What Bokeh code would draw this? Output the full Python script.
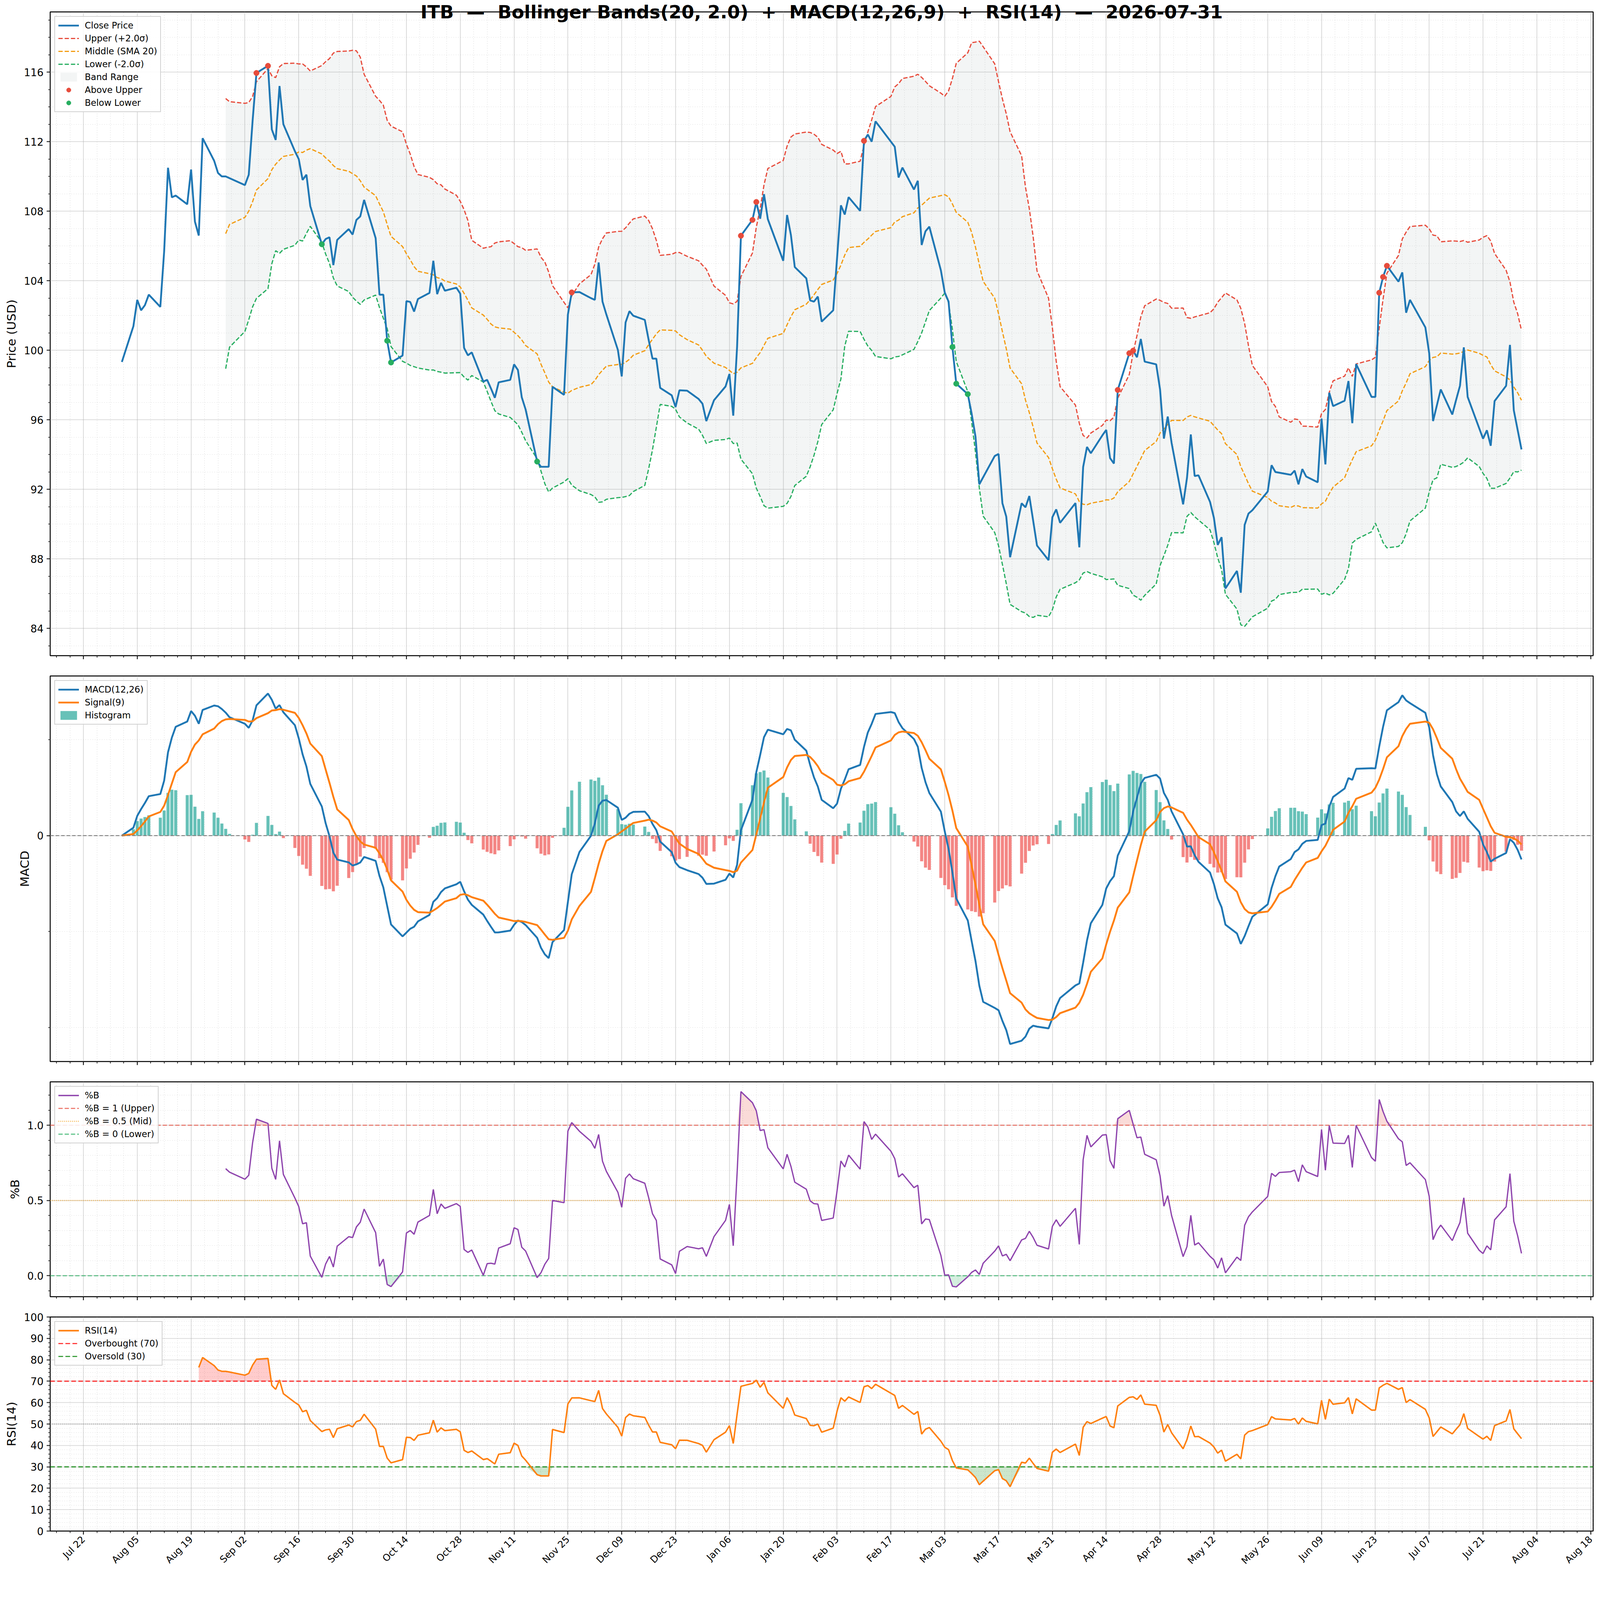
import math
import numpy as np
import pandas as pd
from bokeh.plotting import figure
from bokeh.layouts import column
from bokeh.models import (Range1d, FixedTicker, Legend, LegendItem, Span, Title,
                          DatetimeTickFormatter, NumeralTickFormatter)
from bokeh.embed import file_html
from bokeh.resources import INLINE

# ---------------------------------------------------------------- data
TITLE = "ITB  \u2014  Bollinger Bands(20, 2.0)  +  MACD(12,26,9)  +  RSI(14)  \u2014  2026-07-31"
FIRST_DAY = "2025-08-01"
LAST_DAY = "2026-07-31"
# NYSE market holidays (no bar on these days)
HOLIDAYS = ["2025-09-01", "2025-11-27", "2025-12-25", "2026-01-01", "2026-01-19",
            "2026-02-16", "2026-04-03", "2026-05-25", "2026-06-19", "2026-07-03"]

CLOSE_AUG = [99.33, 101.39, 102.9, 102.3, 102.6, 103.2, 102.5, 105.7, 110.5, 108.8, 108.9,
             108.4, 110.4, 107.4, 106.6, 112.2, 110.9, 110.2, 110.0, 110.0, 109.9]
CLOSE_SEP = [109.5, 110.1, 113.2, 115.95, 116.36, 112.7, 112.1, 115.2, 113.0, 111.45,
             111.0, 109.8, 110.1, 108.3, 106.1, 106.4, 106.5, 104.9, 106.35, 106.97, 106.66]
CLOSE_OCT = [107.5, 107.7, 108.65, 106.45, 103.2, 103.2, 100.55, 99.3, 99.7, 102.83, 102.78,
             102.23, 102.95, 103.3, 105.15, 103.23, 103.88, 103.43, 103.6, 103.26, 100.14, 99.71, 99.88]
CLOSE_NOV = [98.2, 98.3, 97.8, 97.27, 98.16, 98.3, 99.19, 98.87, 97.3, 96.6, 93.6, 93.3, 93.3,
             93.3, 97.9, 97.44, 102.06, 103.33, 103.35]
CLOSE_DEC = [103.0, 102.9, 105.05, 102.8, 102.06, 100.02, 98.5, 101.6, 102.25, 101.99, 101.75,
             100.6, 99.52, 99.52, 97.84, 97.41, 96.74, 97.7, 97.68, 97.2, 96.93, 95.93]
CLOSE_JAN = [97.13, 97.92, 98.64, 96.24, 100.2, 106.59, 107.5, 108.53, 107.57, 108.98,
             107.54, 105.15, 107.78, 106.63, 104.79, 104.14, 102.87, 102.8, 103.09, 101.65]
CLOSE_FEB = [102.3, 105.3, 108.34, 107.81, 108.81, 108.02, 112.05, 112.41, 112.0, 113.17,
             112.0, 111.71, 109.94, 110.51, 109.25, 109.75, 106.06, 106.85, 107.11]
CLOSE_MAR = [104.6, 103.33, 102.8, 100.19, 98.08, 97.48, 96.36, 95.04, 92.29, 92.7, 93.92,
             94.04, 91.21, 90.44, 88.1, 91.2, 90.97, 91.62, 90.2, 88.77, 87.93, 90.4]
CLOSE_APR = [90.85, 90.08, 91.21, 88.67, 93.29, 94.44, 94.08, 95.11, 95.42, 93.8, 93.49,
             97.72, 99.83, 99.98, 99.6, 100.65, 99.35, 99.19, 97.75, 94.92, 96.19]
CLOSE_MAY = [94.68, 91.14, 92.65, 95.16, 92.77, 92.81, 91.28, 90.37, 88.81, 89.25, 86.3, 87.31,
             86.06, 89.96, 90.61, 90.8, 91.88, 93.39, 93.0, 92.96]
CLOSE_JUN = [92.84, 93.08, 92.29, 93.17, 92.74, 92.41, 96.07, 93.44, 97.56, 96.79, 97.1, 98.23,
             95.81, 99.21, 97.32, 97.32, 103.31, 104.22, 104.86, 103.95, 104.48]
CLOSE_JUL = [102.16, 102.9, 101.32, 99.83, 95.93, 96.84, 97.75, 96.31, 97.15, 97.96,
             100.17, 97.32, 95.52, 94.92, 95.4, 94.51, 97.08, 97.96, 100.31, 96.55, 95.42, 94.3]

TICK_DATES = ["2025-07-22", "2025-08-05", "2025-08-19", "2025-09-02", "2025-09-16", "2025-09-30",
              "2025-10-14", "2025-10-28", "2025-11-11", "2025-11-25", "2025-12-09", "2025-12-23",
              "2026-01-06", "2026-01-20", "2026-02-03", "2026-02-17", "2026-03-03", "2026-03-17",
              "2026-03-31", "2026-04-14", "2026-04-28", "2026-05-12", "2026-05-26", "2026-06-09",
              "2026-06-23", "2026-07-07", "2026-07-21", "2026-08-04", "2026-08-18"]
TICK_LABELS = ["Jul 22", "Aug 05", "Aug 19", "Sep 02", "Sep 16", "Sep 30", "Oct 14", "Oct 28",
               "Nov 11", "Nov 25", "Dec 09", "Dec 23", "Jan 06", "Jan 20", "Feb 03", "Feb 17",
               "Mar 03", "Mar 17", "Mar 31", "Apr 14", "Apr 28", "May 12", "May 26", "Jun 09",
               "Jun 23", "Jul 07", "Jul 21", "Aug 04", "Aug 18"]
PRICE_TICKS = [84, 88, 92, 96, 100, 104, 108, 112, 116]
PCTB_TICKS = [0.0, 0.5, 1.0]
RSI_TICKS = [0, 10, 20, 30, 40, 50, 60, 70, 80, 90, 100]

BB_N, BB_K = 20, 2.0
FAST, SLOW, SIG = 12, 26, 9
RSI_N = 14
RSI_OB, RSI_OS, RSI_MID = 70, 30, 50

CLOSE = (CLOSE_AUG + CLOSE_SEP + CLOSE_OCT + CLOSE_NOV + CLOSE_DEC + CLOSE_JAN + CLOSE_FEB +
         CLOSE_MAR + CLOSE_APR + CLOSE_MAY + CLOSE_JUN + CLOSE_JUL)

# ---------------------------------------------------------------- indicators
dates = pd.bdate_range(FIRST_DAY, LAST_DAY, freq="C", holidays=HOLIDAYS)
n = min(len(dates), len(CLOSE))
dates = dates[:n]
close = pd.Series(CLOSE[:n], index=dates, dtype=float)

mid = close.rolling(BB_N).mean()
sd = close.rolling(BB_N).std()
upper = mid + BB_K * sd
lower = mid - BB_K * sd
pctb = (close - lower) / (upper - lower)

ema_f = close.ewm(span=FAST, adjust=False).mean()
ema_s = close.ewm(span=SLOW, adjust=False).mean()
macd = ema_f - ema_s
signal = macd.ewm(span=SIG, adjust=False).mean()
hist = macd - signal

delta = close.diff()
gain = delta.clip(lower=0)
loss = -delta.clip(upper=0)
ag = gain.ewm(alpha=1.0 / RSI_N, adjust=False, min_periods=RSI_N).mean()
al = loss.ewm(alpha=1.0 / RSI_N, adjust=False, min_periods=RSI_N).mean()
rsi = 100 - 100 / (1 + ag / al)

# ---------------------------------------------------------------- sizes (reference pixels -> CSS px)
S = 1.0 / 1.0658


def R(v):
    return v * S


def I(v):
    return int(round(v * S))


def fs(v):
    return "%.1fpx" % (v * S)


def dash(a, b):
    return "%d %d" % (max(1, I(a)), max(1, I(b)))


FONT = "DejaVu Sans"
FRAME_W = 4210
DAY_MS = 86400000.0
BAR_W = 0.8 * DAY_MS

t_first = dates[0].value / 1e6 - BAR_W / 2
t_last = dates[-1].value / 1e6 + BAR_W / 2
pad = 0.05 * (t_last - t_first)
xr = Range1d(t_first - pad, t_last + pad)

tick_ms = [pd.Timestamp(d).value / 1e6 for d in TICK_DATES]
minor_ms = [tick_ms[0] + k * 3.5 * DAY_MS for k in range(-8, 4 * len(tick_ms) + 8)]
minor_ms = [m for m in minor_ms if all(abs(m - t) > 1 for t in tick_ms)]
x_ticker = FixedTicker(ticks=tick_ms, minor_ticks=minor_ms)


def padded(vals):
    arr = np.concatenate([np.asarray(v, dtype=float) for v in vals])
    arr = arr[np.isfinite(arr)]
    lo, hi = arr.min(), arr.max()
    r = hi - lo
    return lo - 0.05 * r, hi + 0.05 * r


def make_panel(frame_h, y_lo, y_hi, b_top, b_bottom, ylabel, yticks, yminor, show_dates):
    p = figure(x_axis_type="datetime", x_range=xr, y_range=Range1d(y_lo, y_hi),
               frame_width=I(FRAME_W), frame_height=I(frame_h),
               min_border_left=I(136.4), min_border_right=I(14),
               min_border_top=I(b_top), min_border_bottom=I(b_bottom),
               output_backend="svg", toolbar_location=None)
    p.background_fill_color = "white"
    p.border_fill_color = "white"
    p.outline_line_color = "black"
    p.outline_line_width = R(2.6)

    p.xaxis.ticker = x_ticker
    p.xaxis.formatter = DatetimeTickFormatter(days="%b %d", months="%b %d", years="%b %d")
    if show_dates:
        p.xaxis.major_label_overrides = {t: lab for t, lab in zip(tick_ms, TICK_LABELS)}
    else:
        p.xaxis.major_label_overrides = {t: "" for t in tick_ms}
    yt = FixedTicker(ticks=yticks, minor_ticks=yminor)
    p.yaxis.ticker = yt
    p.xgrid.ticker = x_ticker
    p.ygrid.ticker = yt

    for ax in p.xaxis + p.yaxis:
        ax.axis_line_color = None
        ax.major_tick_line_color = "black"
        ax.major_tick_line_width = R(2.3)
        ax.major_tick_in = 0
        ax.major_tick_out = I(10)
        ax.minor_tick_line_color = "black"
        ax.minor_tick_line_width = R(1.7)
        ax.minor_tick_in = 0
        ax.minor_tick_out = I(5.5)
        ax.major_label_text_font = FONT
        ax.major_label_text_font_size = fs(28)
        ax.major_label_text_color = "black"
        ax.major_label_standoff = I(8)
        ax.axis_label_text_font = FONT
        ax.axis_label_text_font_size = fs(33)
        ax.axis_label_text_font_style = "normal"
        ax.axis_label_text_color = "black"
        ax.axis_label_standoff = I(12)
    p.yaxis.axis_label = ylabel
    if show_dates:
        p.xaxis.major_label_orientation = math.pi / 4
        p.xaxis.major_label_text_font_size = fs(26)
    else:
        p.xaxis.major_label_standoff = 0

    for g in (p.xgrid, p.ygrid):
        g.grid_line_color = "#b0b0b0"
        g.grid_line_alpha = 0.6
        g.grid_line_width = R(1.7)
        g.minor_grid_line_color = "#b0b0b0"
        g.minor_grid_line_alpha = 0.45
        g.minor_grid_line_width = R(1.3)
        g.minor_grid_line_dash = dash(2, 4)
    return p


def make_legend(items):
    return Legend(items=items, location="top_left", margin=I(12), padding=I(9), spacing=I(5),
                  label_text_font=FONT, label_text_font_size=fs(24.2), label_text_color="black",
                  label_standoff=I(16), glyph_width=I(57), glyph_height=I(30), label_height=I(30),
                  border_line_color="#cccccc", border_line_width=R(2.6), border_line_alpha=0.9,
                  background_fill_color="white", background_fill_alpha=0.85)


def ref_line(p, level, color, alpha, width, dsh):
    return p.line(x=[xr.start, xr.end], y=[level, level], line_color=color, line_alpha=alpha,
                  line_width=width, line_dash=dsh)


valid = mid.notna().values
dv = dates[valid]

# ---------------------------------------------------------------- price panel
PRICE_H = 1756
plo, phi = padded([close.values, upper.values, lower.values])
p1 = make_panel(PRICE_H, plo, phi, 32.4, 28, "Price (USD)", PRICE_TICKS,
                [v for v in range(78, 124) if v not in PRICE_TICKS], False)
title = Title(text=TITLE.replace("  ", " \u00a0"), align="center", vertical_align="middle",
              text_font=FONT, text_font_size=fs(50), text_font_style="bold", text_color="black",
              standoff=-88)
p1.add_layout(title, "above")
r_band = p1.varea(x=dv, y1=lower.values[valid], y2=upper.values[valid],
                  fill_color="#95a5a6", fill_alpha=0.11)
r_up = p1.line(dv, upper.values[valid], line_color="#e74c3c", line_width=R(3.3), line_dash=dash(12, 5))
r_mid = p1.line(dv, mid.values[valid], line_color="#f39c12", line_width=R(3.3), line_dash=dash(12, 5))
r_lo = p1.line(dv, lower.values[valid], line_color="#27ae60", line_width=R(3.3), line_dash=dash(12, 5))
r_close = p1.line(dates, close.values, line_color="#1f77b4", line_width=R(5))
ab = (close > upper).values
be = (close < lower).values
r_ab = p1.scatter(dates[ab], close.values[ab], size=R(15), fill_color="#e74c3c", line_color="#e74c3c")
r_be = p1.scatter(dates[be], close.values[be], size=R(15), fill_color="#27ae60", line_color="#27ae60")
p1.add_layout(make_legend([
    LegendItem(label="Close Price", renderers=[r_close]),
    LegendItem(label="Upper (+2.0\u03c3)", renderers=[r_up]),
    LegendItem(label="Middle (SMA 20)", renderers=[r_mid]),
    LegendItem(label="Lower (-2.0\u03c3)", renderers=[r_lo]),
    LegendItem(label="Band Range", renderers=[r_band]),
    LegendItem(label="Above Upper", renderers=[r_ab]),
    LegendItem(label="Below Lower", renderers=[r_be]),
]))

# ---------------------------------------------------------------- MACD panel
MACD_H = 1052
mlo, mhi = padded([macd.values, signal.values, hist.values])
step_raw = (mhi - mlo) * 262.0 / 1052.0
nice = min([0.1, 0.2, 0.25, 0.5, 1.0, 2.0, 2.5, 5.0], key=lambda s: abs(math.log(s / step_raw)))
macd_minor = [k * nice for k in range(int(mlo / nice) - 2, int(mhi / nice) + 3) if k != 0]
p2 = make_panel(MACD_H, mlo, mhi, 28, 28, "MACD", [0], macd_minor, False)
pos = hist.values >= 0
r_hpos = p2.vbar(x=dates[pos], top=hist.values[pos], bottom=0, width=BAR_W,
                 fill_color="#26a69a", fill_alpha=0.7, line_color=None)
p2.vbar(x=dates[~pos], top=hist.values[~pos], bottom=0, width=BAR_W,
        fill_color="#ef5350", fill_alpha=0.7, line_color=None)
p2.add_layout(Span(location=0, dimension="width", line_color="gray", line_width=R(2.6),
                   line_dash=dash(10, 5)))
r_macd = p2.line(dates, macd.values, line_color="#1f77b4", line_width=R(5))
r_sig = p2.line(dates, signal.values, line_color="#ff7f0e", line_width=R(5))
p2.add_layout(make_legend([
    LegendItem(label="MACD(12,26)", renderers=[r_macd]),
    LegendItem(label="Signal(9)", renderers=[r_sig]),
    LegendItem(label="Histogram", renderers=[r_hpos]),
]))

# ---------------------------------------------------------------- %B panel
PCTB_H = 586
blo, bhi = padded([pctb.values])
p3 = make_panel(PCTB_H, blo, bhi, 28, 28, "%B", PCTB_TICKS,
                [round(0.1 * k, 1) for k in range(-3, 16) if k % 5 != 0], False)
p3.yaxis.formatter = NumeralTickFormatter(format="0.0")
bv = pctb.values[valid]
p3.varea(x=dv, y1=np.ones_like(bv), y2=np.maximum(bv, 1.0), fill_color="#e74c3c", fill_alpha=0.2)
p3.varea(x=dv, y1=np.minimum(bv, 0.0), y2=np.zeros_like(bv), fill_color="#27ae60", fill_alpha=0.2)
items_b = []
for lvl, col, dsh, lab in [(1.0, "#e74c3c", dash(12, 5), "%B = 1 (Upper)"),
                           (0.5, "#f39c12", dash(2, 3), "%B = 0.5 (Mid)"),
                           (0.0, "#27ae60", dash(12, 5), "%B = 0 (Lower)")]:
    rr = ref_line(p3, lvl, col, 0.7, R(3), dsh)
    items_b.append(LegendItem(label=lab, renderers=[rr]))
r_b = p3.line(dv, bv, line_color="#8e44ad", line_width=R(3.5))
p3.add_layout(make_legend([LegendItem(label="%B", renderers=[r_b])] + items_b))

# ---------------------------------------------------------------- RSI panel
RSI_H = 584
p4 = make_panel(RSI_H, 0, 100, 28, 118, "RSI(14)", RSI_TICKS,
                [v for v in range(0, 101, 2) if v % 10 != 0], True)
rv_mask = rsi.notna().values
rd = dates[rv_mask]
rvv = rsi.values[rv_mask]
p4.varea(x=rd, y1=np.full_like(rvv, RSI_OB), y2=np.maximum(rvv, RSI_OB), fill_color="red", fill_alpha=0.2)
p4.varea(x=rd, y1=np.minimum(rvv, RSI_OS), y2=np.full_like(rvv, RSI_OS), fill_color="green", fill_alpha=0.2)
p4.add_layout(Span(location=RSI_MID, dimension="width", line_color="gray", line_alpha=0.7,
                   line_width=R(2.5), line_dash=dash(2, 3)))
items_r = []
for lvl, col, lab in [(RSI_OB, "red", "Overbought (70)"), (RSI_OS, "green", "Oversold (30)")]:
    rr = ref_line(p4, lvl, col, 0.75, R(3.3), dash(13, 6))
    items_r.append(LegendItem(label=lab, renderers=[rr]))
r_rsi = p4.line(rd, rvv, line_color="#ff7f0e", line_width=R(4))
p4.add_layout(make_legend([LegendItem(label="RSI(14)", renderers=[r_rsi])] + items_r))

layout = column(p1, p2, p3, p4, spacing=0)
open("out.html", "w").write(file_html(layout, INLINE, title="ITB indicators"))
